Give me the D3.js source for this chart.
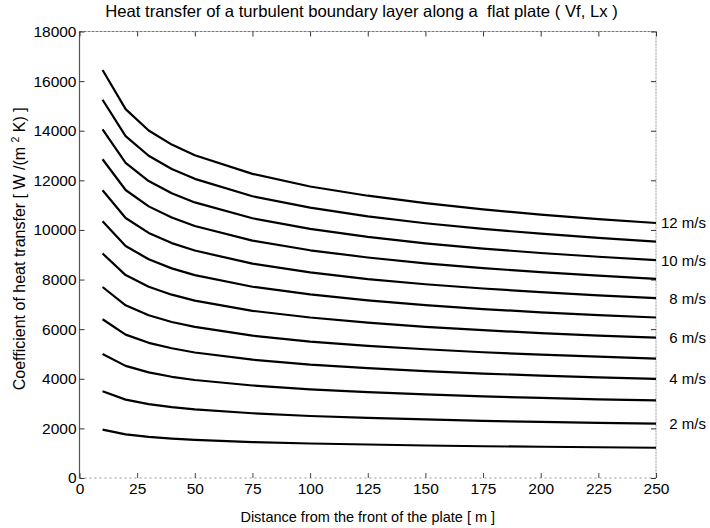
<!DOCTYPE html>
<html>
<head>
<meta charset="utf-8">
<script src="https://cdn.jsdelivr.net/npm/d3@7/dist/d3.min.js"></script>
<style>
  html, body { margin: 0; padding: 0; background: #fff; }
  svg { display: block; font-family: "Liberation Sans", Arial, Helvetica, sans-serif; }
</style>
</head>
<body>
<svg id="chart" width="710" height="528"></svg>
<script>
// ---- data ----
const distances = [10, 20, 30, 40, 50, 75, 100, 125, 150, 175, 200, 225, 250];
const speeds = [1, 2, 3, 4, 5, 6, 7, 8, 9, 10, 11, 12];
const h1  = [1950, 1760, 1660, 1590, 1540, 1450, 1390, 1350, 1310, 1280, 1260, 1240, 1220];
const h2  = [3500, 3160, 2980, 2860, 2770, 2610, 2500, 2420, 2360, 2300, 2260, 2220, 2190];
const h3  = [5000, 4520, 4260, 4080, 3950, 3730, 3570, 3460, 3370, 3290, 3230, 3170, 3130];
const h4  = [6400, 5780, 5450, 5230, 5060, 4770, 4570, 4430, 4310, 4210, 4130, 4060, 4000];
const h5  = [7700, 6960, 6560, 6290, 6090, 5740, 5500, 5330, 5190, 5070, 4970, 4890, 4810];
const h6  = [9050, 8180, 7710, 7390, 7150, 6740, 6470, 6260, 6090, 5960, 5840, 5740, 5660];
const h7  = [10350, 9350, 8820, 8450, 8180, 7710, 7400, 7160, 6970, 6810, 6680, 6570, 6470];
const h8  = [11600, 10480, 9880, 9470, 9170, 8640, 8290, 8020, 7810, 7640, 7490, 7360, 7250];
const h9  = [12850, 11610, 10950, 10500, 10160, 9570, 9180, 8890, 8650, 8460, 8300, 8160, 8030];
const h10 = [14050, 12700, 11970, 11480, 11110, 10470, 10040, 9720, 9460, 9250, 9070, 8920, 8780];
const h11 = [15250, 13780, 12990, 12460, 12060, 11360, 10900, 10550, 10270, 10040, 9850, 9680, 9530];
const h12 = [16450, 14870, 14010, 13440, 13010, 12260, 11750, 11380, 11080, 10830, 10620, 10440, 10280];
const seriesValues = [h1, h2, h3, h4, h5, h6, h7, h8, h9, h10, h11, h12];
const labelledSpeeds = [2, 4, 6, 8, 10, 12];
const xTicks = [0, 25, 50, 75, 100, 125, 150, 175, 200, 225, 250];
const yTicks = [0, 2000, 4000, 6000, 8000, 10000, 12000, 14000, 16000, 18000];

const titleText = "Heat transfer of a turbulent boundary layer along a\u00a0 flat plate ( Vf, Lx )";
const xLabelText = "Distance from the front of the plate [ m ]";

// ---- layout ----
const pLeft = 79.5, pRight = 656, pTop = 31.5, pBottom = 478;
const svg = d3.select("#chart");
const x = d3.scaleLinear().domain([0, 250]).range([pLeft, pRight]);
const y = d3.scaleLinear().domain([0, 18000]).range([pBottom, pTop]);

// frame
const frame = svg.append("g");
frame.append("line").attr("x1", pLeft).attr("x2", pRight).attr("y1", pTop).attr("y2", pTop)
  .attr("stroke", "#777").attr("stroke-width", 1).attr("stroke-dasharray", "3,1");
frame.append("line").attr("x1", pLeft).attr("x2", pRight).attr("y1", pBottom).attr("y2", pBottom)
  .attr("stroke", "#999").attr("stroke-width", 1).attr("stroke-dasharray", "2,3");
frame.append("line").attr("x1", pRight).attr("x2", pRight).attr("y1", pTop).attr("y2", pBottom)
  .attr("stroke", "#999").attr("stroke-width", 1).attr("stroke-dasharray", "2,1");
frame.append("line").attr("x1", pLeft).attr("x2", pLeft).attr("y1", pTop).attr("y2", pBottom)
  .attr("stroke", "#555").attr("stroke-width", 1.2);

// axes
const tickFont = 15.5;
const yAxis = d3.axisLeft(y).tickValues(yTicks).tickFormat(d3.format("d"))
  .tickSizeInner(-5).tickSizeOuter(0).tickPadding(3);
const gy = svg.append("g").attr("transform", `translate(${pLeft},0)`).call(yAxis);
gy.select(".domain").remove();
gy.selectAll("text").attr("font-size", tickFont).attr("fill", "#000")
  .attr("font-family", "Liberation Sans, Arial, sans-serif");
gy.selectAll("line").attr("stroke", "#333");

const yAxisR = d3.axisRight(y).tickValues(yTicks).tickFormat("")
  .tickSizeInner(-5).tickSizeOuter(0);
const gyr = svg.append("g").attr("transform", `translate(${pRight},0)`).call(yAxisR);
gyr.select(".domain").remove();
gyr.selectAll("line").attr("stroke", "#333");

const xAxis = d3.axisBottom(x).tickValues(xTicks).tickFormat(d3.format("d"))
  .tickSizeInner(-5).tickSizeOuter(0).tickPadding(5);
const gx = svg.append("g").attr("transform", `translate(0,${pBottom})`).call(xAxis);
gx.select(".domain").remove();
gx.selectAll("text").attr("font-size", tickFont).attr("fill", "#000")
  .attr("font-family", "Liberation Sans, Arial, sans-serif");
gx.selectAll("line").attr("stroke", "#444");

const xAxisT = d3.axisTop(x).tickValues(xTicks).tickFormat("")
  .tickSizeInner(-5).tickSizeOuter(0);
const gxt = svg.append("g").attr("transform", `translate(0,${pTop})`).call(xAxisT);
gxt.select(".domain").remove();
gxt.selectAll("line").attr("stroke", "#333");

// curves
const line = d3.line().x((d, i) => x(distances[i])).y(d => y(d));
svg.append("g").selectAll("path").data(seriesValues).join("path")
  .attr("d", d => line(d))
  .attr("fill", "none").attr("stroke", "#000").attr("stroke-width", 2.2)
  .attr("stroke-linejoin", "round");

// speed labels
svg.append("g").selectAll("text").data(labelledSpeeds).join("text")
  .attr("x", 706)
  .attr("y", s => y(seriesValues[speeds.indexOf(s)][distances.length - 1]))
  .attr("dy", "0.36em")
  .attr("text-anchor", "end")
  .attr("font-size", 15).attr("fill", "#000")
  .text(s => `${s} m/s`);

// title
const title = svg.append("text").attr("x", 361.5).attr("y", 17)
  .attr("text-anchor", "middle").attr("font-size", 13).attr("fill", "#000")
  .text(titleText);
const tl = title.node().getComputedTextLength();
title.attr("font-size", 13 * 513 / tl);

// x label
svg.append("text").attr("x", (pLeft + pRight) / 2).attr("y", 522)
  .attr("text-anchor", "middle").attr("font-size", 14.5).attr("fill", "#000")
  .text(xLabelText);

// y label
const yl = svg.append("text")
  .attr("transform", `translate(25,${(pTop + pBottom) / 2 - 6}) rotate(-90)`)
  .attr("text-anchor", "middle").attr("font-size", 16).attr("fill", "#000");
yl.append("tspan").text("Coefficient of heat transfer [ W /(m ");
yl.append("tspan").attr("font-size", 10.5).attr("dy", -6).text("2");
yl.append("tspan").attr("dy", 6).text(" K) ]");
</script>
</body>
</html>
